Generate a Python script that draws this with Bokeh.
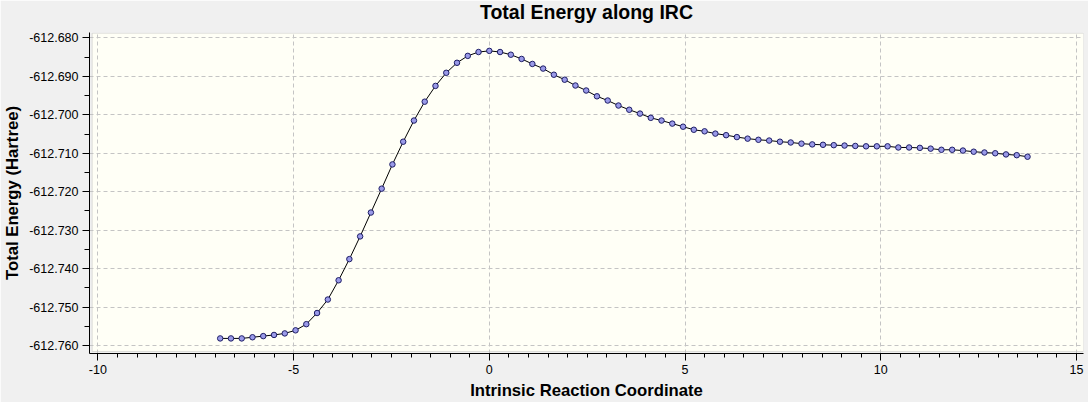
import numpy as np
from bokeh.plotting import figure
from bokeh.models import Range1d, FixedTicker, NumeralTickFormatter, BoxAnnotation, Title
from bokeh.embed import file_html
from bokeh.resources import INLINE

# ---- data ----
irc_coord = [
    -6.875, -6.600, -6.325, -6.050, -5.775, -5.500, -5.225, -4.950, -4.675, -4.400,
    -4.125, -3.850, -3.575, -3.300, -3.025, -2.750, -2.475, -2.200, -1.925, -1.650,
    -1.375, -1.100, -0.825, -0.550, -0.275, 0.000, 0.275, 0.550, 0.825, 1.100,
    1.375, 1.650, 1.925, 2.200, 2.475, 2.750, 3.025, 3.300, 3.575, 3.850,
    4.125, 4.400, 4.675, 4.950, 5.225, 5.500, 5.775, 6.050, 6.325, 6.600,
    6.875, 7.150, 7.425, 7.700, 7.975, 8.250, 8.525, 8.800, 9.075, 9.350,
    9.625, 9.900, 10.175, 10.450, 10.725, 11.000, 11.275, 11.550, 11.825, 12.100,
    12.375, 12.650, 12.925, 13.200, 13.475, 13.750,
]
total_energy = [
    -612.7581, -612.7581, -612.7581, -612.7578, -612.7575, -612.7572, -612.7568, -612.7560, -612.7544, -612.7515,
    -612.7480, -612.7430, -612.7375, -612.7316, -612.7254, -612.7192, -612.7129, -612.7070, -612.7015, -612.6966,
    -612.6925, -612.6891, -612.6865, -612.6847, -612.6837, -612.6834, -612.6837, -612.6844, -612.6855, -612.6868,
    -612.6880, -612.6896, -612.6909, -612.6924, -612.6937, -612.6952, -612.6963, -612.6976, -612.6987, -612.6997,
    -612.7008, -612.7015, -612.7023, -612.7031, -612.7039, -612.7043, -612.7049, -612.7053, -612.7058, -612.7062,
    -612.7065, -612.7067, -612.7070, -612.7072, -612.7075, -612.7077, -612.7078, -612.7079, -612.7080, -612.7081,
    -612.7082, -612.7082, -612.7082, -612.7085, -612.7085, -612.7086, -612.7088, -612.7091, -612.7091, -612.7093,
    -612.7096, -612.7098, -612.7100, -612.7103, -612.7105, -612.7109,
]
x_ticks = [-10, -5, 0, 5, 10, 15]
y_ticks = [-612.76, -612.75, -612.74, -612.73, -612.72, -612.71, -612.70, -612.69, -612.68]
title_text = "Total Energy along IRC"
x_label_text = "Intrinsic Reaction Coordinate"
y_label_text = "Total Energy (Hartree)"

# ---- styling ----
FONT = "Liberation Sans"
BG = "#f0f0f0"
X0, X1 = -10.214, 15.180
Y0, Y1 = -612.76202, -612.67863

p = figure(width=1088, height=402, output_backend="svg", toolbar_location=None,
           x_range=Range1d(X0, X1), y_range=Range1d(Y0, Y1),
           min_border_left=87, min_border_right=5, min_border_top=32, min_border_bottom=48,
           background_fill_color=BG, border_fill_color=BG,
           x_axis_label=x_label_text, y_axis_label=y_label_text)
p.outline_line_color = None

p.title.text = title_text
p.title.align = "center"
p.title.offset = 2
p.title.vertical_align = "top"
p.title.text_font = FONT
p.title.text_font_size = "19.5px"
p.title.text_font_style = "bold"
p.title.text_color = "black"
p.title.standoff = 0

# spacer between title and plot area
p.add_layout(Title(text=" ", text_font_size="1px", standoff=5), "above")

# plot area (ivory box)
p.add_layout(BoxAnnotation(left=-10.145, right=X1, bottom=-612.7615, top=-612.6788,
                           fill_color="#fffff6", fill_alpha=1.0,
                           line_color="#a0a0a0", line_width=1, level="image"))

x_minor = list(np.arange(-10, 15.001, 0.5))
y_minor = list(np.arange(-612.76, -612.6799, 0.005))

for ax, ticks, minors, fmt in ((p.xaxis[0], x_ticks, x_minor, "0"),
                               (p.yaxis[0], y_ticks, y_minor, "0.000")):
    ax.ticker = FixedTicker(ticks=ticks, minor_ticks=minors)
    ax.formatter = NumeralTickFormatter(format=fmt)
    ax.axis_line_color = "black"
    ax.major_tick_line_color = "black"
    ax.minor_tick_line_color = "black"
    ax.major_tick_in = 0
    ax.minor_tick_in = 0
    ax.major_tick_out = 7
    ax.major_label_text_font = FONT
    ax.major_label_text_color = "black"
    ax.major_label_text_font_size = "12.5px"
    ax.major_label_standoff = 4
    ax.axis_label_text_font = FONT
    ax.axis_label_text_font_size = "16.7px"
    ax.axis_label_text_font_style = "bold"
    ax.axis_label_text_color = "black"

p.xaxis.minor_tick_out = 4
p.yaxis.minor_tick_out = 5
p.xaxis.axis_label_standoff = 4
p.yaxis.axis_label_standoff = 4

p.grid.grid_line_color = "#c4c4c4"
p.grid.grid_line_dash = "4 3"
p.grid.grid_line_width = 1

# data
p.line(irc_coord, total_energy, line_color="black", line_width=1)
p.scatter(irc_coord, total_energy, size=5.5, fill_color="#9a9ae8",
          line_color="#1e1e66", line_width=1)

open("out.html", "w").write(file_html(p, INLINE))
